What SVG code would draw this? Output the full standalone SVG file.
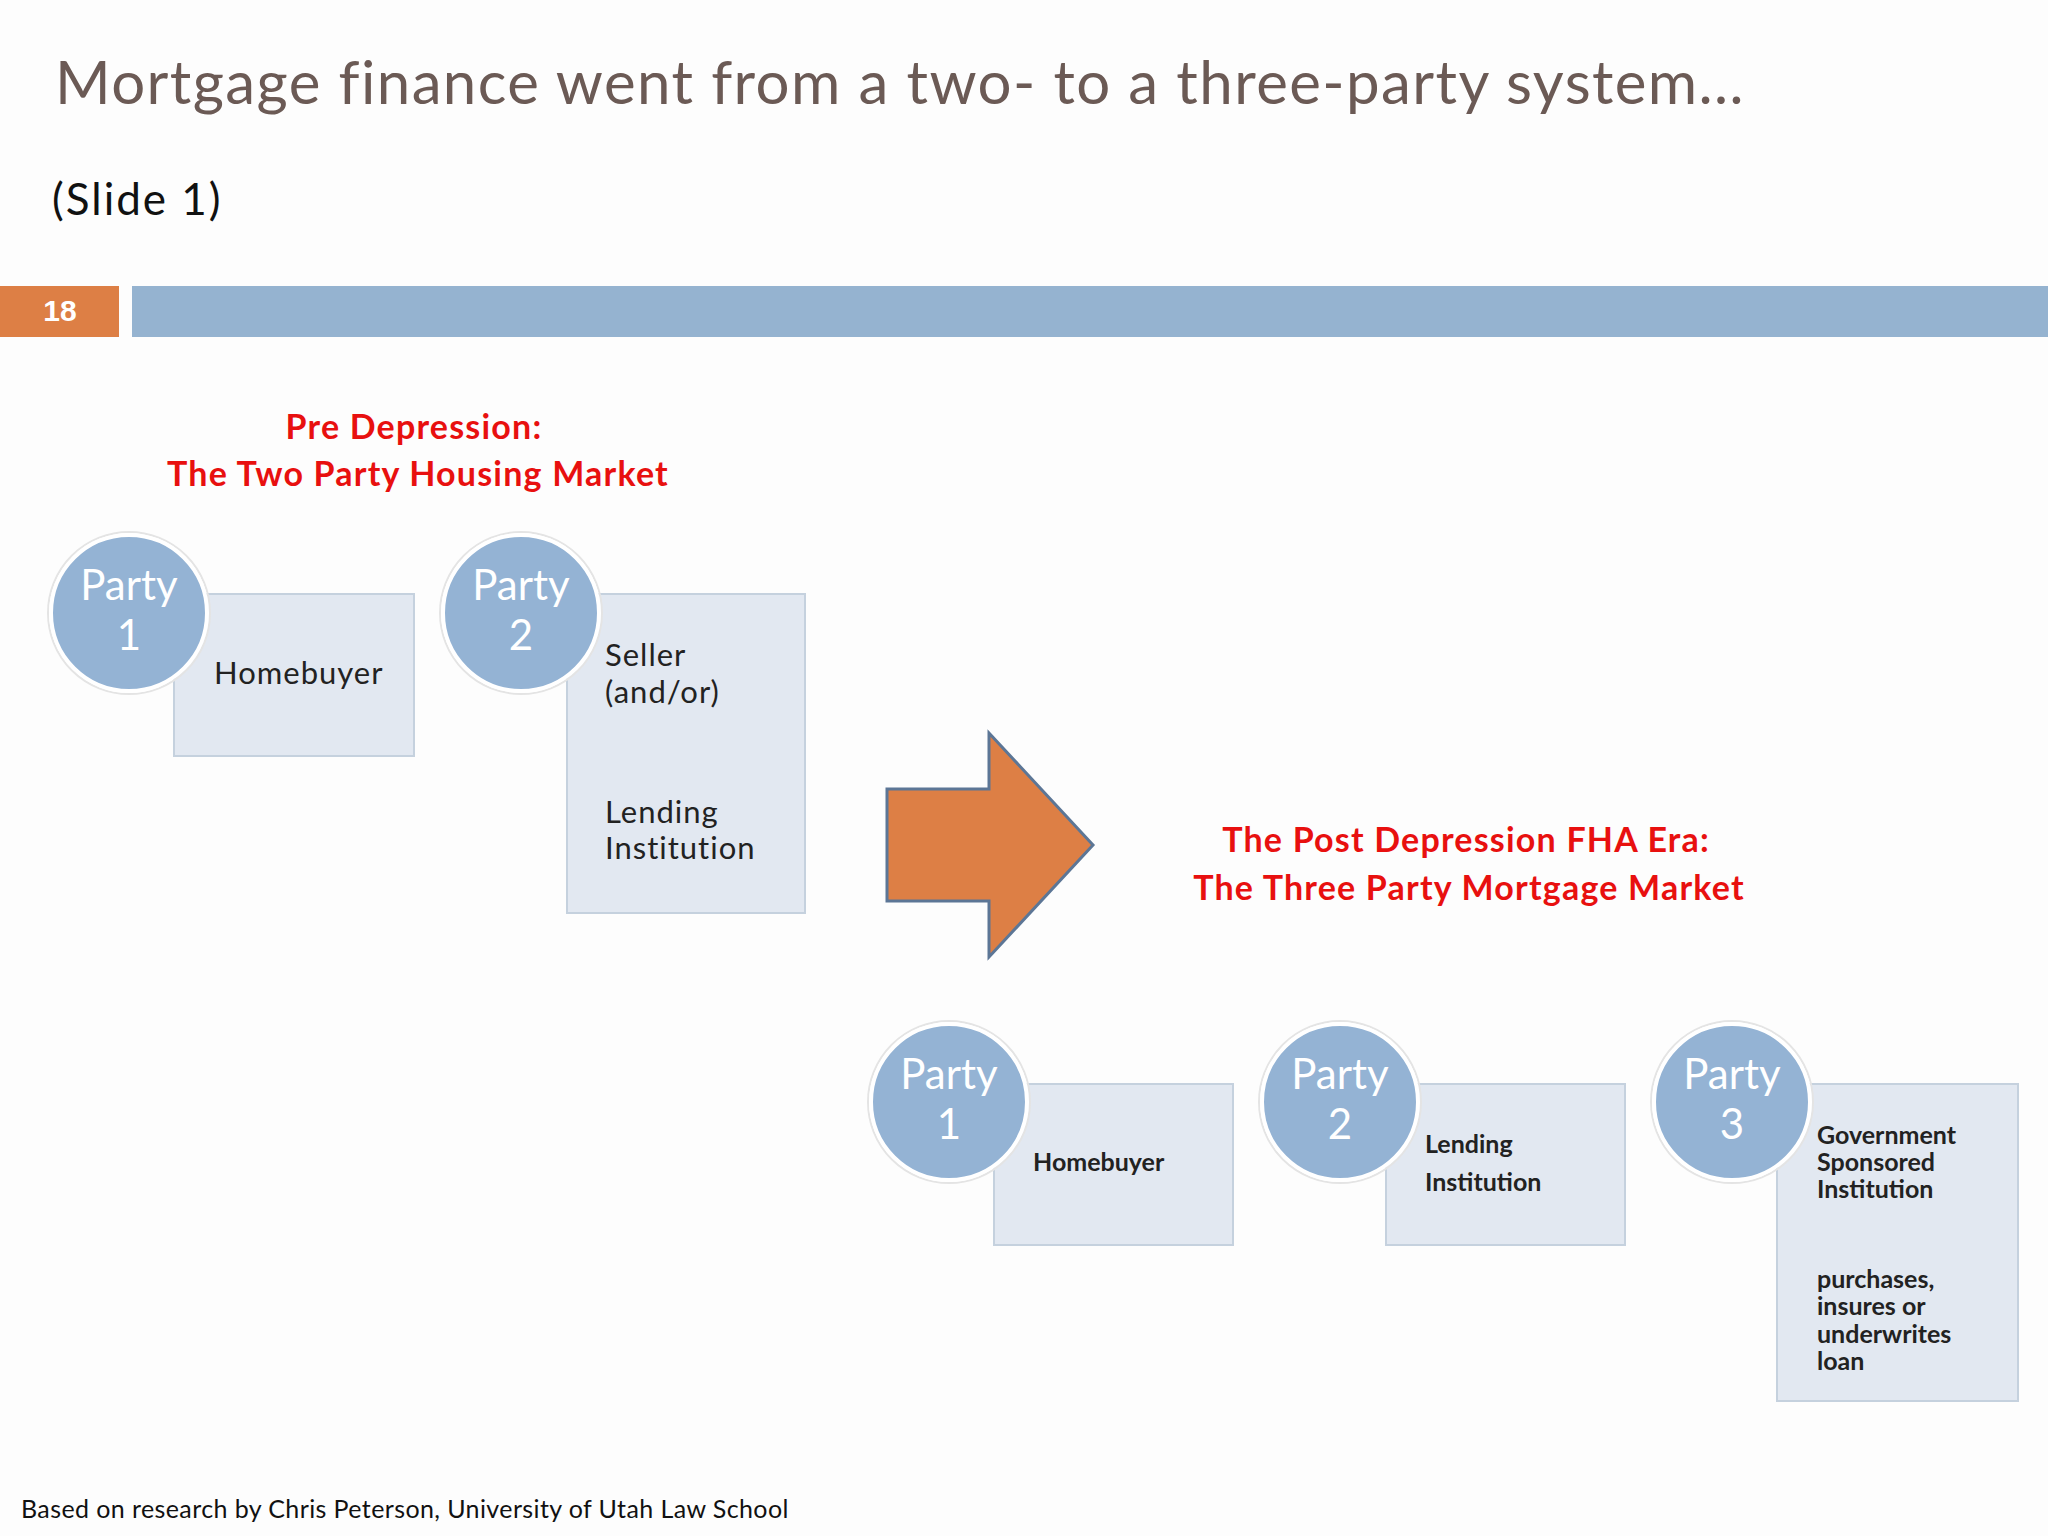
<svg xmlns="http://www.w3.org/2000/svg" width="2048" height="1536" viewBox="0 0 2048 1536">
<style>
.box{fill:#e2e8f1;stroke:#c5d1de;stroke-width:2}
.circ{fill:#94b3d4;stroke:#fff;stroke-width:4}
.ring{fill:none;stroke:#e4e4e4;stroke-width:2}
.pt{font-family:Lato,"Open Sans",sans-serif;font-size:42px;fill:#fff;text-anchor:middle}
.bt{font-family:Lato,"Open Sans",sans-serif;font-size:31px;fill:#222;letter-spacing:1px}
.st{font-family:Lato,"Open Sans",sans-serif;font-size:25px;fill:#222;font-weight:bold}
.red{font-family:Lato,"Open Sans",sans-serif;font-size:34px;fill:#e8100f;font-weight:bold;text-anchor:middle;letter-spacing:1.2px}
</style>
<rect width="2048" height="1536" fill="#fdfdfd"/>
<text x="55" y="104" font-family="Lato,'Open Sans',sans-serif" font-size="60" fill="#6b5a55" letter-spacing="1.4">Mortgage finance went from a two- to a three-party system…</text>
<text x="52" y="215" font-family="Lato,'Open Sans',sans-serif" font-size="44" fill="#111" letter-spacing="2">(Slide 1)</text>
<rect x="0" y="286" width="119" height="51" fill="#dd7f45"/>
<text x="60" y="321" font-family="'Liberation Sans',sans-serif" font-size="30" font-weight="bold" fill="#fff" text-anchor="middle">18</text>
<rect x="132" y="286" width="1916" height="51" fill="#95b3d0"/>
<text class="red" x="414" y="439">Pre Depression:</text>
<text class="red" x="418" y="486">The Two Party Housing Market</text>
<text class="red" x="1466" y="852">The Post Depression FHA Era:</text>
<text class="red" x="1469" y="900">The Three Party Mortgage Market</text>
<g id="p1a"><rect class="box" x="174" y="594" width="240" height="162"/><circle class="ring" cx="129" cy="613" r="81"/><circle class="circ" cx="129" cy="613" r="78"/><text class="pt" x="129" y="600">Party</text><text class="pt" x="129" y="650">1</text><text class="bt" x="214" y="684">Homebuyer</text></g>
<g id="p2a"><rect class="box" x="567" y="594" width="238" height="319"/><circle class="ring" cx="521" cy="613" r="81"/><circle class="circ" cx="521" cy="613" r="78"/><text class="pt" x="521" y="600">Party</text><text class="pt" x="521" y="650">2</text><text class="bt" x="605" y="666">Seller</text><text class="bt" x="605" y="703">(and/or)</text><text class="bt" x="605" y="823">Lending</text><text class="bt" x="605" y="859">Institution</text></g>
<g id="arrow"><polygon points="887,789 989,789 989,733 1093,845 989,957 989,901 887,901" fill="#dd7f45" stroke="#5c7696" stroke-width="3"/></g>
<g id="p1b"><rect class="box" x="994" y="1084" width="239" height="161"/><circle class="ring" cx="949" cy="1102" r="81"/><circle class="circ" cx="949" cy="1102" r="78"/><text class="pt" x="949" y="1089">Party</text><text class="pt" x="949" y="1139">1</text><text class="st" x="1033" y="1171">Homebuyer</text></g>
<g id="p2b"><rect class="box" x="1386" y="1084" width="239" height="161"/><circle class="ring" cx="1340" cy="1102" r="81"/><circle class="circ" cx="1340" cy="1102" r="78"/><text class="pt" x="1340" y="1089">Party</text><text class="pt" x="1340" y="1139">2</text><text class="st" x="1425" y="1153">Lending</text><text class="st" x="1425" y="1191">Institution</text></g>
<g id="p3b"><rect class="box" x="1777" y="1084" width="241" height="317"/><circle class="ring" cx="1732" cy="1102" r="81"/><circle class="circ" cx="1732" cy="1102" r="78"/><text class="pt" x="1732" y="1089">Party</text><text class="pt" x="1732" y="1139">3</text><text class="st" x="1817" y="1144">Government</text><text class="st" x="1817" y="1171">Sponsored</text><text class="st" x="1817" y="1198">Institution</text><text class="st" x="1817" y="1288">purchases,</text><text class="st" x="1817" y="1315">insures or</text><text class="st" x="1817" y="1343">underwrites</text><text class="st" x="1817" y="1370">loan</text></g>
<text x="21" y="1518" font-family="Lato,'Open Sans',sans-serif" font-size="25" fill="#111" letter-spacing="0.4">Based on research by Chris Peterson, University of Utah Law School</text>
</svg>
